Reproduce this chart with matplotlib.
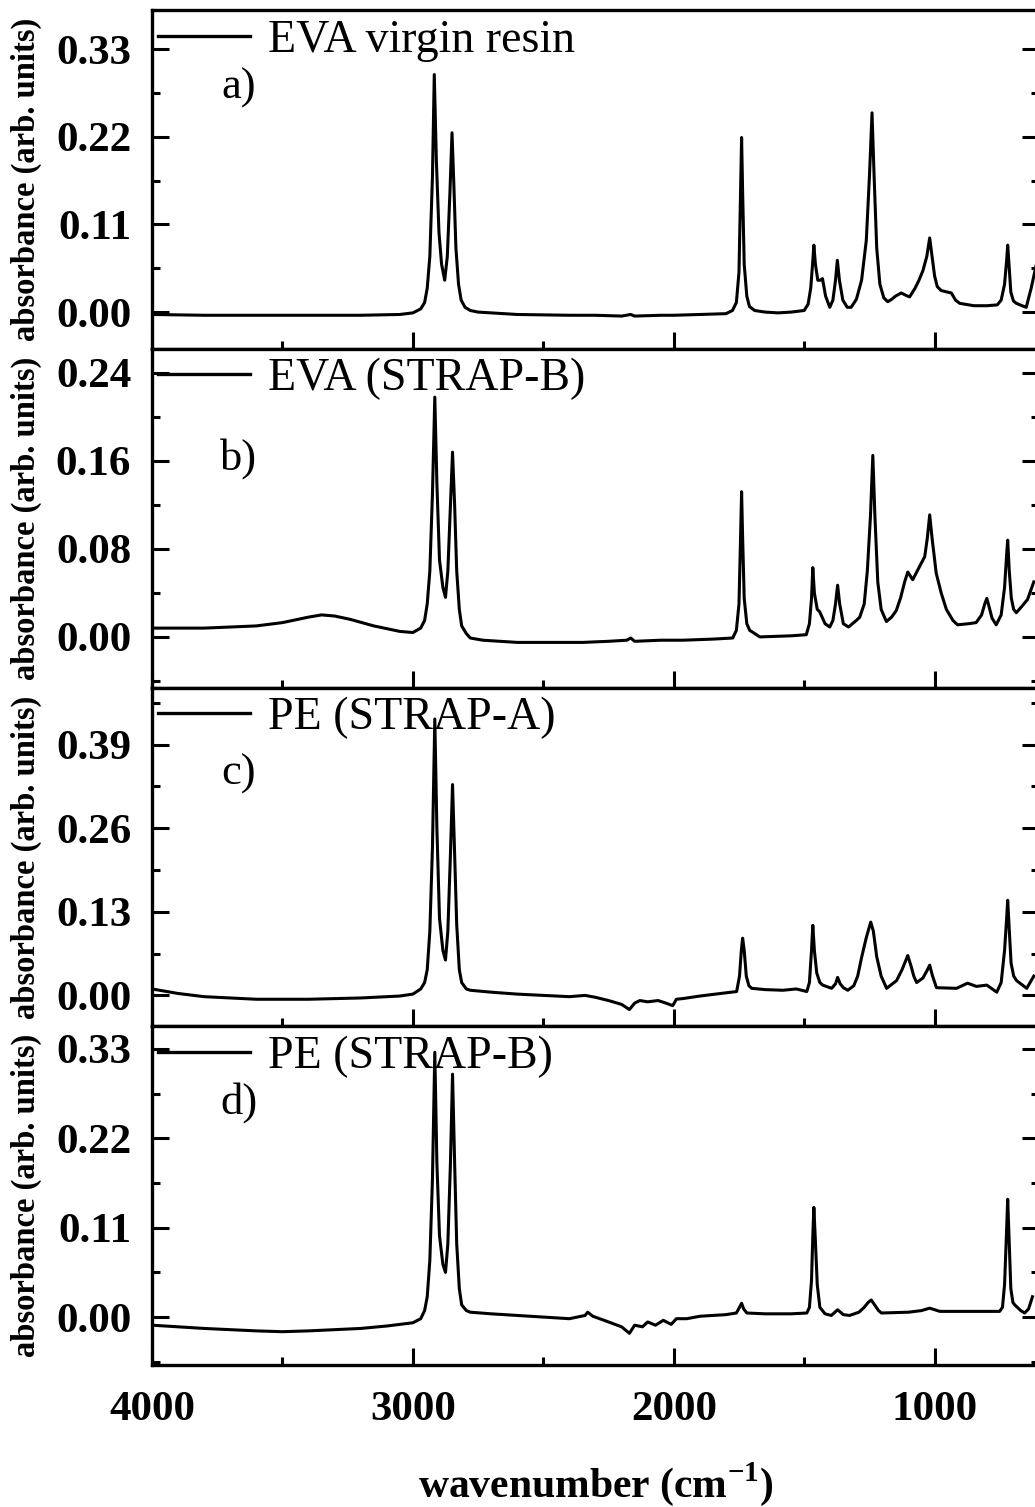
import matplotlib
matplotlib.use("Agg")
import matplotlib.pyplot as plt
from matplotlib.ticker import MultipleLocator, FormatStrFormatter

# ---- data (wavenumber cm-1, absorbance) ----
wn_a = [4000, 3800, 3600, 3400, 3200, 3050, 3000, 2970, 2955, 2945, 2935, 2925, 2918,
        2910, 2900, 2890, 2878, 2868, 2858, 2850, 2843, 2835, 2825, 2815, 2800, 2780,
        2750, 2600, 2400, 2300, 2200, 2165, 2150, 2050, 2000, 1900, 1800, 1775, 1760,
        1750, 1744, 1740, 1736, 1730, 1720, 1710, 1690, 1650, 1600, 1550, 1500, 1485,
        1475, 1468, 1463, 1457, 1448, 1438, 1430, 1418, 1402, 1390, 1380, 1373, 1365,
        1352, 1335, 1320, 1300, 1280, 1262, 1250, 1240, 1232, 1222, 1210, 1195, 1180,
        1165, 1150, 1128, 1110, 1096, 1075, 1060, 1045, 1030, 1019, 1010, 1000, 990, 975,
        950, 936, 920, 904, 850, 800, 760, 745, 732, 724, 720, 715, 708, 698, 687, 665,
        649, 630, 610]
ab_a = [-0.003, -0.004, -0.004, -0.004, -0.004, -0.003, -0.001, 0.004, 0.012, 0.03,
        0.07, 0.17, 0.298, 0.19, 0.1, 0.06, 0.04, 0.07, 0.15, 0.225, 0.16, 0.08, 0.035,
        0.015, 0.006, 0.002, 0.0, -0.003, -0.004, -0.004, -0.005, -0.003, -0.005, -0.004,
        -0.004, -0.003, -0.002, 0.002, 0.012, 0.05, 0.15, 0.219, 0.15, 0.06, 0.02, 0.007,
        0.002, 0.0, -0.001, 0.0, 0.002, 0.01, 0.03, 0.06, 0.084, 0.06, 0.04, 0.04, 0.042,
        0.02, 0.006, 0.015, 0.04, 0.065, 0.04, 0.015, 0.006, 0.006, 0.016, 0.04, 0.09,
        0.17, 0.25, 0.17, 0.08, 0.035, 0.018, 0.013, 0.016, 0.02, 0.024, 0.021, 0.019,
        0.03, 0.04, 0.052, 0.07, 0.093, 0.07, 0.045, 0.032, 0.027, 0.025, 0.024, 0.015,
        0.011, 0.008, 0.008, 0.009, 0.015, 0.035, 0.065, 0.084, 0.06, 0.025, 0.014, 0.011,
        0.008, 0.006, 0.03, 0.06]

wn_b = [4000, 3800, 3600, 3500, 3400, 3350, 3300, 3241, 3150, 3050, 3000, 2970, 2955,
        2945, 2935, 2925, 2916, 2908, 2898, 2885, 2875, 2866, 2856, 2848, 2840, 2832,
        2822, 2813, 2795, 2780, 2732, 2600, 2450, 2349, 2250, 2180, 2165, 2150, 2050,
        1966, 1850, 1774, 1760, 1750, 1744, 1740, 1736, 1730, 1720, 1709, 1670, 1550,
        1492, 1480, 1472, 1467, 1461, 1450, 1441, 1420, 1402, 1390, 1380, 1372, 1364,
        1350, 1330, 1300, 1287, 1270, 1258, 1246, 1237, 1229, 1218, 1205, 1185, 1165,
        1147, 1130, 1115, 1103, 1084, 1060, 1038, 1028, 1019, 1010, 1000, 994, 975, 955,
        930, 912, 870, 841, 820, 808, 800, 792, 780, 764, 745, 732, 724, 720, 714, 706,
        697, 687, 665, 644, 620]
ab_b = [0.008, 0.008, 0.01, 0.013, 0.018, 0.02, 0.019, 0.016, 0.01, 0.005, 0.004, 0.008,
        0.015, 0.03, 0.06, 0.13, 0.218, 0.14, 0.07, 0.045, 0.036, 0.06, 0.12, 0.168,
        0.12, 0.06, 0.025, 0.01, 0.003, -0.001, -0.003, -0.005, -0.005, -0.005, -0.004,
        -0.003, -0.001, -0.004, -0.003, -0.003, -0.002, -0.001, 0.006, 0.03, 0.09, 0.132,
        0.09, 0.035, 0.012, 0.006, 0.0, 0.001, 0.002, 0.012, 0.035, 0.063, 0.04, 0.025,
        0.023, 0.012, 0.009, 0.015, 0.03, 0.047, 0.03, 0.012, 0.009, 0.015, 0.018, 0.03,
        0.06, 0.11, 0.165, 0.11, 0.05, 0.025, 0.014, 0.018, 0.024, 0.036, 0.05, 0.059,
        0.052, 0.063, 0.073, 0.09, 0.111, 0.09, 0.07, 0.058, 0.04, 0.025, 0.015, 0.011,
        0.012, 0.013, 0.02, 0.03, 0.035, 0.028, 0.017, 0.011, 0.02, 0.045, 0.075, 0.088,
        0.06, 0.035, 0.025, 0.022, 0.028, 0.034, 0.05]

wn_c = [4000, 3900, 3800, 3600, 3400, 3200, 3050, 3000, 2970, 2955, 2945, 2935, 2925,
        2916, 2908, 2898, 2885, 2875, 2866, 2856, 2848, 2840, 2832, 2822, 2813, 2795,
        2780, 2700, 2600, 2500, 2400, 2340, 2300, 2250, 2200, 2170, 2150, 2130, 2100,
        2060, 2030, 2004, 1990, 1966, 1900, 1800, 1759, 1748, 1741, 1736, 1730, 1722,
        1712, 1701, 1650, 1582, 1530, 1490, 1480, 1472, 1467, 1461, 1452, 1440, 1429,
        1395, 1380, 1372, 1362, 1350, 1333, 1310, 1295, 1280, 1262, 1245, 1235, 1222,
        1205, 1184, 1146, 1125, 1103, 1090, 1080, 1069, 1045, 1030, 1019, 1008, 993, 916,
        874, 840, 800, 762, 745, 732, 724, 720, 715, 707, 697, 686, 647, 620]
ab_c = [0.01, 0.003, -0.002, -0.006, -0.006, -0.004, -0.001, 0.002, 0.01, 0.02, 0.04,
        0.1, 0.23, 0.43, 0.26, 0.12, 0.07, 0.055, 0.1, 0.22, 0.328, 0.22, 0.11, 0.04,
        0.02, 0.01, 0.008, 0.005, 0.002, 0.0, -0.002, 0.0, -0.003, -0.008, -0.014, -0.022,
        -0.012, -0.008, -0.01, -0.008, -0.012, -0.016, -0.006, -0.005, -0.001, 0.004,
        0.006, 0.03, 0.07, 0.089, 0.07, 0.03, 0.015, 0.011, 0.009, 0.008, 0.01, 0.006,
        0.02, 0.07, 0.109, 0.07, 0.035, 0.02, 0.016, 0.011, 0.018, 0.028, 0.018, 0.012,
        0.008, 0.015, 0.03, 0.059, 0.09, 0.114, 0.1, 0.06, 0.03, 0.011, 0.023, 0.04, 0.062,
        0.045, 0.03, 0.02, 0.027, 0.038, 0.047, 0.03, 0.012, 0.011, 0.019, 0.014, 0.016,
        0.005, 0.02, 0.07, 0.12, 0.148, 0.11, 0.05, 0.03, 0.023, 0.011, 0.03]

wn_d = [4000, 3800, 3600, 3500, 3400, 3200, 3100, 3000, 2970, 2955, 2945, 2935, 2925,
        2916, 2908, 2898, 2885, 2875, 2866, 2856, 2848, 2840, 2832, 2822, 2813, 2795,
        2780, 2700, 2600, 2500, 2400, 2340, 2330, 2310, 2250, 2200, 2170, 2150, 2120,
        2100, 2070, 2040, 2010, 1990, 1950, 1900, 1800, 1760, 1748, 1740, 1732, 1720,
        1650, 1550, 1490, 1480, 1472, 1467, 1463, 1458, 1450, 1440, 1420, 1396, 1372,
        1350, 1326, 1290, 1270, 1255, 1243, 1230, 1215, 1204, 1100, 1050, 1019, 980, 900,
        800, 751, 740, 732, 725, 720, 715, 708, 700, 693, 670, 655, 640, 625]
ab_d = [-0.01, -0.014, -0.017, -0.018, -0.017, -0.014, -0.011, -0.007, -0.002, 0.008,
        0.025, 0.07, 0.17, 0.326, 0.19, 0.1, 0.065, 0.055, 0.09, 0.19, 0.299, 0.19, 0.09,
        0.035, 0.015, 0.008, 0.006, 0.004, 0.002, 0.0, -0.002, 0.002, 0.006, 0.001,
        -0.006, -0.012, -0.02, -0.01, -0.012, -0.006, -0.01, -0.004, -0.009, -0.002,
        -0.002, 0.001, 0.003, 0.005, 0.012, 0.017, 0.01, 0.005, 0.004, 0.004, 0.005,
        0.012, 0.045, 0.1, 0.135, 0.1, 0.04, 0.012, 0.004, 0.002, 0.009, 0.003, 0.002,
        0.006, 0.012, 0.018, 0.021, 0.015, 0.008, 0.005, 0.006, 0.008, 0.011, 0.007,
        0.007, 0.007, 0.007, 0.012, 0.04, 0.1, 0.145, 0.1, 0.035, 0.018, 0.015, 0.008,
        0.005, 0.01, 0.025]

labels = ["EVA virgin resin", "EVA (STRAP-B)", "PE (STRAP-A)", "PE (STRAP-B)"]
letters = ["a)", "b)", "c)", "d)"]
letter_y = [0.77, 0.675, 0.745, 0.775]
ylims = [(-0.046, 0.379), (-0.046, 0.262), (-0.048, 0.479), (-0.059, 0.358)]
ysteps = [0.11, 0.08, 0.13, 0.11]

series = [(wn_a, ab_a), (wn_b, ab_b), (wn_c, ab_c), (wn_d, ab_d)]

plt.rcParams["font.family"] = "Liberation Serif"
plt.rcParams["mathtext.fontset"] = "custom"
plt.rcParams["mathtext.bf"] = "Liberation Serif:bold"
plt.rcParams["mathtext.rm"] = "Liberation Serif"

W, H = 1035, 1507
fig = plt.figure(figsize=(W / 100, H / 100), dpi=100)

left_px, right_px = 152, 1039
top_px, bot_px = 10, 1365
panel_h = (bot_px - top_px) / 4

axes = []
for i, ((wn, ab), lab, let, ly, ylim, step) in enumerate(
        zip(series, labels, letters, letter_y, ylims, ysteps)):
    top = top_px + i * panel_h
    ax = fig.add_axes([left_px / W, 1 - (top + panel_h) / H,
                       (right_px - left_px) / W, panel_h / H])
    ax.plot(wn, ab, color="black", lw=2.2, label=lab)
    ax.set_xlim(4000, 600)
    ax.set_ylim(*ylim)

    ax.xaxis.set_major_locator(MultipleLocator(1000))
    ax.xaxis.set_minor_locator(MultipleLocator(500))
    ax.yaxis.set_major_locator(MultipleLocator(step))
    ax.yaxis.set_minor_locator(MultipleLocator(step / 2))
    ax.yaxis.set_major_formatter(FormatStrFormatter("%.2f"))

    ax.tick_params(which="both", direction="in", top=False, right=True,
                   width=2.2, labelsize=31, pad=15)
    ax.tick_params(axis="x", pad=19)
    ax.tick_params(which="major", length=12)
    ax.tick_params(which="minor", length=6)
    for lbl in ax.get_yticklabels() + ax.get_xticklabels():
        lbl.set_fontweight("bold")
    for sp in ax.spines.values():
        sp.set_linewidth(2.4)

    if i < 3:
        ax.tick_params(labelbottom=False)

    ax.set_ylabel("absorbance (arb. units)", fontsize=23.5, fontweight="bold")
    ax.yaxis.set_label_coords(-0.124, 0.5)

    leg = ax.legend(loc="center left", bbox_to_anchor=(0.007, 0.91),
                    frameon=False, fontsize=33, handlelength=2.0,
                    handletextpad=0.4, borderpad=0, borderaxespad=0)
    for ln in leg.get_lines():
        ln.set_linewidth(2.4)

    ax.text(0.098, ly, let, transform=ax.transAxes, fontsize=32,
            ha="center", va="center")
    axes.append(ax)

axes[-1].set_xlabel("wavenumber (cm$^{\\mathbf{-1}}$)", fontsize=30,
                    fontweight="bold", labelpad=22)

fig.savefig("out.png", dpi=100)
